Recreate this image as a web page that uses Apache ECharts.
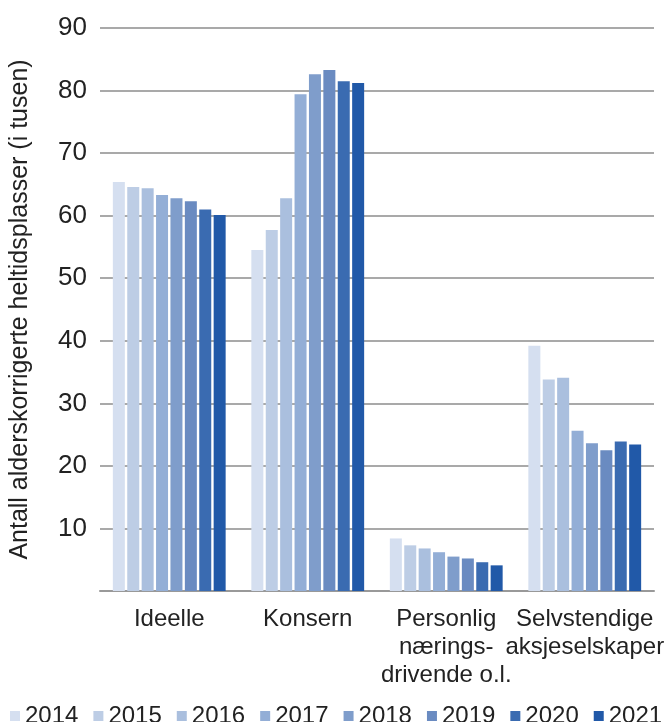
<!DOCTYPE html>
<html>
<head>
<meta charset="utf-8">
<script src="https://cdn.jsdelivr.net/npm/echarts@6/dist/echarts.min.js"></script>
<style>
html,body{margin:0;padding:0;background:#fff;}
#chart{width:670px;height:722px;}
</style>
</head>
<body>
<div id="chart"></div>
<script>
var categories = ['Ideelle', 'Konsern', 'Personlig\nnærings-\ndrivende o.l.', 'Selvstendige\naksjeselskaper'];
var years = ['2014', '2015', '2016', '2017', '2018', '2019', '2020', '2021'];
var v2014 = [65.4, 54.5, 8.4, 39.2];
var v2015 = [64.6, 57.7, 7.3, 33.8];
var v2016 = [64.4, 62.8, 6.8, 34.1];
var v2017 = [63.3, 79.4, 6.2, 25.6];
var v2018 = [62.8, 82.6, 5.5, 23.6];
var v2019 = [62.3, 83.3, 5.2, 22.5];
var v2020 = [61.0, 81.5, 4.6, 23.9];
var v2021 = [60.1, 81.2, 4.1, 23.4];
var yTicks = [0, 10, 20, 30, 40, 50, 60, 70, 80, 90];
var yTitle = 'Antall alderskorrigerte heltidsplasser (i tusen)';

var values = [v2014, v2015, v2016, v2017, v2018, v2019, v2020, v2021];
var colors = ['#d5dff0', '#bdcde5', '#aabfde', '#93aed6', '#7f9dcb', '#6a8bc1', '#3a6bb1', '#2159a8'];
var FONT = '"Liberation Sans", Arial, sans-serif';

var chart = echarts.init(document.getElementById('chart'), null, {renderer: 'canvas'});
var series = years.map(function (y, i) {
  return {
    name: y,
    type: 'bar',
    data: values[i],
    barWidth: 12,
    barGap: '20%',
    itemStyle: {color: colors[i]}
  };
});

chart.setOption({
  animation: false,
  backgroundColor: '#ffffff',
  textStyle: {fontFamily: FONT},
  grid: {left: 100, right: 16, top: 28, bottom: 131, containLabel: false},
  legend: {
    data: years,
    left: 10,
    top: 704,
    width: 665,
    padding: 0,
    itemWidth: 10,
    itemHeight: 10,
    itemGap: 15,
    icon: 'rect',
    textStyle: {fontFamily: FONT, fontSize: 24, color: '#222'}
  },
  xAxis: {
    type: 'category',
    data: categories,
    axisLine: {show: true, lineStyle: {color: '#999', width: 2}},
    axisTick: {show: false},
    axisLabel: {
      interval: 0,
      margin: 14,
      fontFamily: FONT,
      fontSize: 24,
      lineHeight: 28,
      color: '#222',
      align: 'center'
    }
  },
  yAxis: {
    type: 'value',
    min: yTicks[0],
    max: yTicks[yTicks.length - 1],
    interval: 10,
    name: yTitle,
    nameLocation: 'middle',
    nameGap: 67,
    nameRotate: 90,
    nameTextStyle: {fontFamily: FONT, fontSize: 25, color: '#222'},
    axisLine: {show: false},
    axisTick: {show: false},
    splitLine: {show: true, lineStyle: {color: '#8c8c8c', width: 1.5}},
    axisLabel: {
      margin: 13,
      fontFamily: FONT,
      fontSize: 26,
      color: '#222',
      formatter: function (v) { return v === 0 ? '' : String(v); }
    }
  },
  series: series
});
</script>
</body>
</html>
